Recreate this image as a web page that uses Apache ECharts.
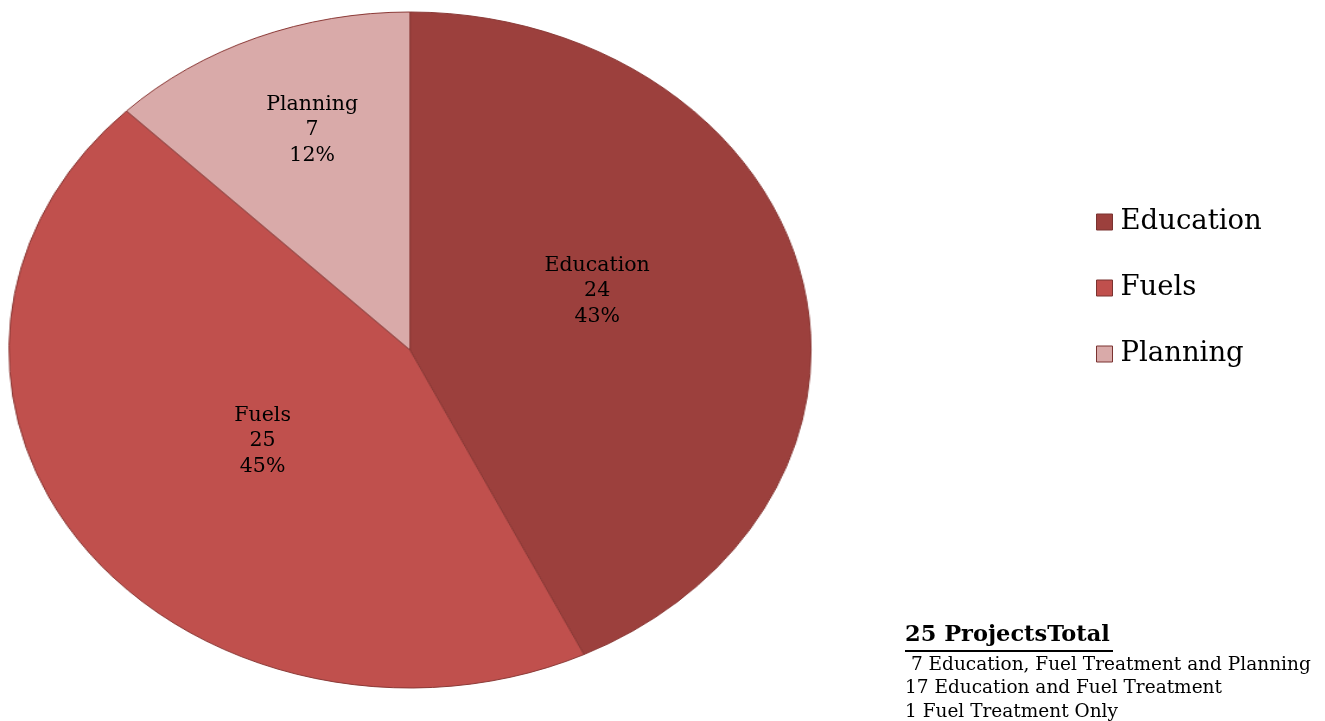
<!DOCTYPE html>
<html>
<head>
<meta charset="utf-8">
<script src="https://cdn.jsdelivr.net/npm/echarts@6/dist/echarts.min.js"></script>
<style>
  html, body { margin: 0; padding: 0; background: #ffffff; }
  #wrap { position: relative; width: 1325px; height: 721px; overflow: hidden; }
  #pie { position: absolute; left: 0; top: 0; width: 1325px; height: 721px; transform-origin: 0 0; }
  #over { position: absolute; left: 0; top: 0; width: 1325px; height: 721px; }
</style>
</head>
<body>
<div id="wrap">
  <div id="pie"></div>
  <div id="over"></div>
</div>
<script>
// ---- data ----
var categories = ['Education', 'Fuels', 'Planning'];
var values = [24, 25, 7];
var colors = ['#9C403D', '#C0504D', '#D9AAA9'];
var noteTitle = '25 ProjectsTotal';
var noteLines = [' 7 Education, Fuel Treatment and Planning', '17 Education and Fuel Treatment', '1 Fuel Treatment Only'];

// ---- layout ----
var CX = 410, CY = 350, RY = 338, RX = 401;
var SX = RX / RY;
var FONT = '"DejaVu Serif", "Liberation Serif", serif';

var pieEl = document.getElementById('pie');
pieEl.style.transform = 'scaleX(' + SX + ')';

var pieData = categories.map(function (c, i) {
  return { name: c, value: values[i], itemStyle: { color: colors[i] } };
});

var chart1 = echarts.init(pieEl, null, { renderer: 'canvas' });
chart1.setOption({
  animation: false,
  series: [{
    type: 'pie',
    center: [CX / SX, CY],
    radius: RY,
    startAngle: 90,
    clockwise: true,
    silent: true,
    label: { show: false },
    labelLine: { show: false },
    itemStyle: { borderColor: '#8A3835', borderWidth: 1 },
    data: pieData
  }]
});

// overlay: labels, legend, notes
var labelOffsets = [[-1, -16], [10, -21], [-24, -42]];
var labelData = categories.map(function (c, i) {
  return {
    name: c, value: values[i],
    itemStyle: { color: 'rgba(0,0,0,0)', borderWidth: 0 },
    label: { offset: labelOffsets[i] }
  };
});

var chart2 = echarts.init(document.getElementById('over'), null, { renderer: 'canvas' });
chart2.setOption({
  animation: false,
  legend: {
    orient: 'vertical',
    left: 1096,
    top: 207,
    padding: 0,
    itemWidth: 16,
    itemHeight: 16,
    itemGap: 36,
    icon: 'rect',
    textStyle: { fontFamily: FONT, fontSize: 27.5, color: '#000', lineHeight: 30, padding: [0, 0, 0, 3] },
    data: categories.map(function (c, i) {
      return { name: c, itemStyle: { color: colors[i], opacity: 1, borderColor: '#7a3330', borderWidth: 1 } };
    })
  },
  series: [{
    type: 'pie',
    center: [CX, CY],
    radius: 380,
    startAngle: 90,
    clockwise: true,
    silent: true,
    percentPrecision: 0,
    avoidLabelOverlap: false,
    label: {
      show: true,
      position: 'inside',
      formatter: '{b}\n{c}\n{d}%',
      fontFamily: FONT,
      fontSize: 20.5,
      lineHeight: 25.5,
      color: '#000'
    },
    labelLine: { show: false },
    emphasis: { disabled: true },
    data: labelData
  }],
  graphic: [
    {
      type: 'text', left: 905, top: 624,
      style: { text: noteTitle, fontFamily: FONT, fontSize: 22.5, fontWeight: 'bold', fill: '#000' }
    },
    {
      type: 'rect', left: 905, top: 650,
      shape: { width: 208, height: 2 }, style: { fill: '#000' }
    },
    {
      type: 'text', left: 905, top: 653,
      style: { text: noteLines.join('\n'), fontFamily: FONT, fontSize: 18.5, lineHeight: 23.5, fill: '#000' }
    }
  ]
});
</script>
</body>
</html>
